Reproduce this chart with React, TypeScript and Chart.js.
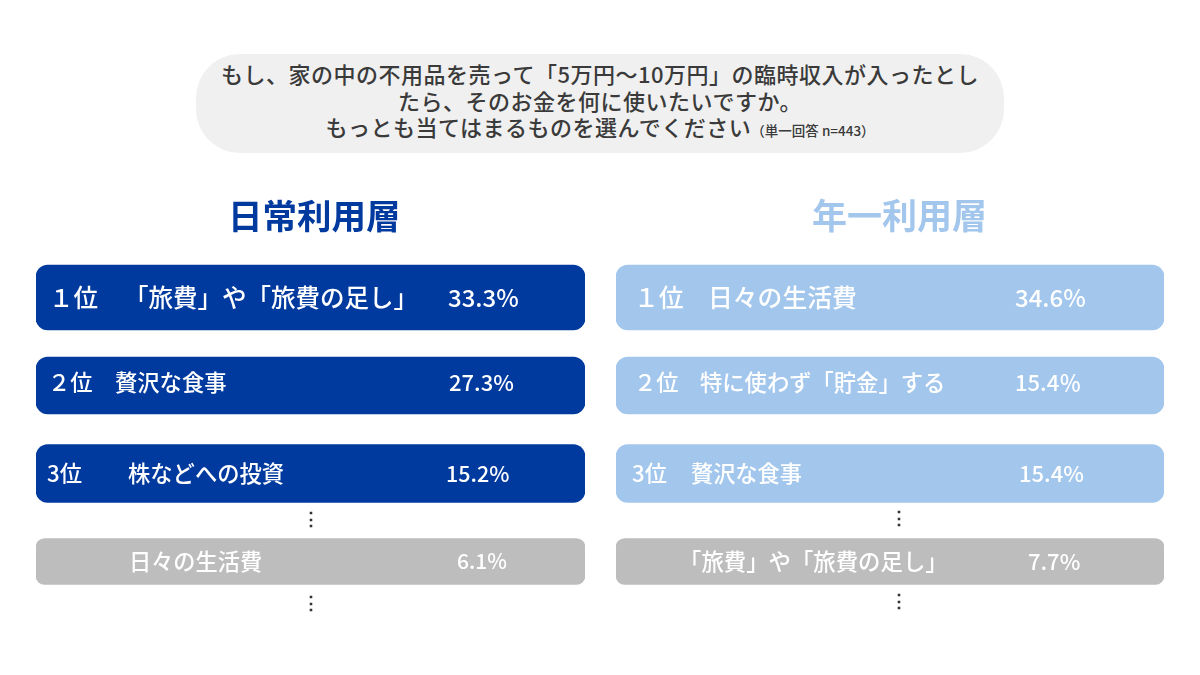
import React, { useEffect, useRef } from 'react';
import { Chart, registerables, Plugin } from 'chart.js';

Chart.register(...registerables);

const FONT = '"Noto Sans CJK JP", "Noto Sans", sans-serif';

const dailyRanks = ['１位', '２位', '3位', ''];
const dailyLabels = ['「旅費」や「旅費の足し」', '贅沢な食事', '株などへの投資', '日々の生活費'];
const dailyValues = ['33.3%', '27.3%', '15.2%', '6.1%'];

const yearlyRanks = ['１位', '２位', '3位', ''];
const yearlyLabels = ['日々の生活費', '特に使わず「貯金」する', '贅沢な食事', '「旅費」や「旅費の足し」'];
const yearlyValues = ['34.6%', '15.4％', '15.4%', '7.7%'];

// every row is drawn full width in the original, the percentage is only a label
const rowFill = [100, 100, 100, 100];

const barThickness = [65, 57, 58, 46];
const barRadius = [12, 12, 12, 9];
const textShift = [0.5, -3, 0.5, 0];
const GREY = '#BDBDBD';

type RowText = { rankX: number; labelX: number; valueX: number; size: number; valueSize: number };

interface PanelProps {
  left: number;
  paddingLeft: number;
  paddingRight: number;
  heading: string;
  headingX: number;
  headingSize: number;
  color: string;
  ranks: string[];
  labels: string[];
  values: string[];
  rowText: RowText[];
  dotsX: number;
  dotsY: number[];
}

const Panel: React.FC<PanelProps> = (props) => {
  const chartRef = useRef<HTMLCanvasElement>(null);

  useEffect(() => {
    if (!chartRef.current) return;

    const textPlugin: Plugin<'bar'> = {
      id: 'rowText',
      afterDatasetsDraw(chart) {
        const { ctx } = chart;
        ctx.save();
        ctx.textBaseline = 'middle';
        ctx.textAlign = 'left';

        ctx.fillStyle = props.color;
        ctx.font = `700 ${props.headingSize}px ${FONT}`;
        ctx.fillText(props.heading, props.headingX, 216);

        props.labels.forEach((label, i) => {
          const bar = chart.getDatasetMeta(i).data[i] as any;
          const style = props.rowText[i];
          const y = bar.y + textShift[i];
          ctx.fillStyle = '#FFFFFF';
          ctx.font = `500 ${style.size}px ${FONT}`;
          if (props.ranks[i]) ctx.fillText(props.ranks[i], style.rankX, y);
          ctx.fillText(label, style.labelX, y);
          ctx.font = `500 ${style.valueSize}px ${FONT}`;
          ctx.fillText(props.values[i], style.valueX, y);
        });

        ctx.fillStyle = '#333333';
        ctx.font = `700 18px ${FONT}`;
        ctx.textAlign = 'center';
        props.dotsY.forEach((y) => ctx.fillText('⋮', props.dotsX, y));
        ctx.restore();
      },
    };

    const chart = new Chart(chartRef.current, {
      type: 'bar',
      data: {
        labels: props.labels,
        datasets: rowFill.map((fill, row) => ({
          data: rowFill.map((_, i) => (i === row ? fill : null)),
          backgroundColor: row === 3 ? GREY : props.color,
          barThickness: barThickness[row],
          borderRadius: barRadius[row],
          borderSkipped: false,
          grouped: false,
        })),
      },
      options: {
        indexAxis: 'y',
        responsive: false,
        animation: false,
        layout: {
          padding: { left: props.paddingLeft, right: props.paddingRight, top: 253.5, bottom: 69.5 },
        },
        plugins: {
          legend: { display: false },
          title: { display: false },
          tooltip: { enabled: false },
        },
        scales: {
          x: { display: false, min: 0, max: 100 },
          y: { display: false },
        },
      },
      plugins: [textPlugin],
    });

    return () => {
      chart.destroy();
    };
  }, []);

  return (
    <canvas
      ref={chartRef}
      width={600}
      height={675}
      style={{ position: 'absolute', left: props.left, top: 0, width: 600, height: 675 }}
    />
  );
};

const bannerLine: React.CSSProperties = {
  position: 'absolute',
  left: 0,
  width: 808,
  textAlign: 'center',
  whiteSpace: 'nowrap',
  fontSize: 22,
  fontWeight: 500,
  letterSpacing: 0.5,
  lineHeight: '28px',
  color: '#3A3A3A',
};

export default function App() {
  return (
    <div
      style={{
        position: 'absolute',
        left: 0,
        top: 0,
        width: 1200,
        height: 675,
        background: '#FFFFFF',
        fontFamily: FONT,
        overflow: 'hidden',
      }}
    >
      <div
        style={{
          position: 'absolute',
          left: 196,
          top: 54,
          width: 808,
          height: 99,
          borderRadius: 44,
          background: '#F0F0F0',
        }}
      >
        <div style={{ ...bannerLine, top: 5 }}>もし、家の中の不用品を売って「5万円～10万円」の臨時収入が入ったとし</div>
        <div style={{ ...bannerLine, top: 32 }}>たら、そのお金を何に使いたいですか。</div>
        <div style={{ ...bannerLine, top: 58 }}>
          もっとも当てはまるものを選んでください
          <span style={{ fontSize: 13.5, letterSpacing: 0, marginLeft: 0 }}>（単一回答 n=443）</span>
        </div>
      </div>
      <Panel
        left={0}
        paddingLeft={36}
        paddingRight={15}
        heading="日常利用層"
        headingX={228}
        headingSize={34.5}
        color="#003A9E"
        ranks={dailyRanks}
        labels={dailyLabels}
        values={dailyValues}
        rowText={[
          { rankX: 49, labelX: 124, valueX: 448, size: 24.5, valueSize: 24 },
          { rankX: 48, labelX: 115, valueX: 449, size: 22.3, valueSize: 22 },
          { rankX: 47, labelX: 128, valueX: 446, size: 22.3, valueSize: 21.5 },
          { rankX: 47, labelX: 129, valueX: 457, size: 22.2, valueSize: 21 },
        ]}
        dotsX={311}
        dotsY={[518, 602]}
      />
      <Panel
        left={600}
        paddingLeft={16}
        paddingRight={36}
        heading="年一利用層"
        headingX={212}
        headingSize={35}
        color="#A3C7EC"
        ranks={yearlyRanks}
        labels={yearlyLabels}
        values={yearlyValues}
        rowText={[
          { rankX: 34, labelX: 108, valueX: 415, size: 24.8, valueSize: 24 },
          { rankX: 34, labelX: 100, valueX: 415, size: 22.3, valueSize: 22 },
          { rankX: 32, labelX: 91, valueX: 419, size: 22.2, valueSize: 22 },
          { rankX: 32, labelX: 79, valueX: 428, size: 22.4, valueSize: 22 },
        ]}
        dotsX={299}
        dotsY={[517, 600]}
      />
    </div>
  );
}
